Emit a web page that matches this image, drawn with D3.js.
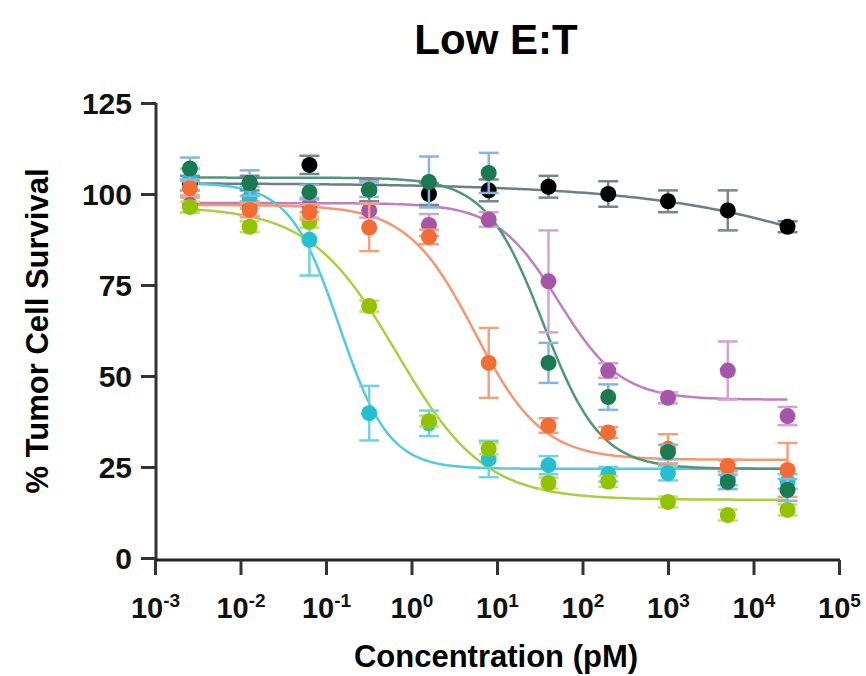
<!DOCTYPE html>
<html><head><meta charset="utf-8">
<script src="https://cdn.jsdelivr.net/npm/d3@7"></script>
<style>
body{margin:0;background:#fff;}
text{font-family:"Liberation Sans",Arial,sans-serif;font-weight:bold;}
</style></head>
<body><svg id="c" width="866" height="676"></svg>
<script>
// Concentrations (pM), 5-fold dilutions
const conc = [0.00256, 0.0128, 0.064, 0.32, 1.6, 8, 40, 200, 1000, 5000, 25000];
const seriesNames = ["black", "purple", "cyan", "lime", "orange", "dgreen"];
const blackY   = [103, 103, 108, 101, 100, 101, 102, 100, 98, 95.5, 91];
const blackErr = [2, 2, 2.5, 3, 3, 3, 3, 3.5, 3, 5.5, 1.5];
const purpleY   = [97, 96, 97, 95.5, 91.5, 93, 76, 51.5, 44, 51.5, 39];
const purpleErr = [2, 2, 2, 2, 3, 2, 14, 2, 1.5, 8, 2.5];
const cyanY   = [104, 99, 87.4, 39.8, 37, 27.2, 25.5, 23, 23.3, 22, 21];
const cyanErr = [3, 3, 9.8, 7.5, 3.5, 5, 2.5, 2, 2, 2, 2];
const limeY   = [96.4, 91, 92.3, 69.2, 37.6, 30, 20.6, 21, 15.4, 11.8, 13.2];
const limeErr = [1.5, 1.5, 1.5, 1.5, 1.5, 1.5, 1.5, 1.5, 1.5, 1.5, 1.5];
const orangeY   = [101.6, 95.6, 95, 90.8, 88.2, 53.6, 36.4, 34.5, 30, 25.3, 24.2];
const orangeErr = [2, 2, 2, 6.5, 2, 9.6, 2, 1.5, 4, 1.5, 7.4];
const dgreenY   = [107, 103, 100.5, 101.2, 103.3, 105.8, 53.6, 44.2, 29.1, 20.9, 18.7];
const dgreenErr = [3, 3.5, 2, 2, 7, 5.5, 5.5, 3.5, 2, 2, 3];
// 4PL fit parameters: [top, bottom, logEC50, hill]
const blackFit  = [103, 30, 6.75, 0.3];
const purpleFit = [97.5, 43.5, 1.72, 1.2];
const cyanFit   = [103, 24.5, -0.845, 1.5];
const limeFit   = [96.5, 16, -0.17, 0.85];
const orangeFit = [97, 27, 0.74, 1.1];
const dgreenFit = [104.5, 24.5, 1.54, 1.3];
const yTicks = [0, 25, 50, 75, 100, 125];
const xTickExps = [-3, -2, -1, 0, 1, 2, 3, 4, 5];

const styles = {
  black:  {pt:"#000000", line:"#6e7e86", err:"#77878f"},
  purple: {pt:"#a656a8", line:"#c07ec0", err:"#d3a3d3"},
  cyan:   {pt:"#22c0d2", line:"#52cadf", err:"#6fd3e2"},
  lime:   {pt:"#93c300", line:"#a8d040", err:"#c2e070"},
  orange: {pt:"#f46c33", line:"#f69670", err:"#f6a07c"},
  dgreen: {pt:"#1a7a52", line:"#4e977a", err:"#86b6df"}
};
const data = {
  black:[blackY,blackErr,blackFit], purple:[purpleY,purpleErr,purpleFit],
  cyan:[cyanY,cyanErr,cyanFit], lime:[limeY,limeErr,limeFit],
  orange:[orangeY,orangeErr,orangeFit], dgreen:[dgreenY,dgreenErr,dgreenFit]
};

const svg = d3.select("#c");
const x = d3.scaleLog().domain([1e-3, 1e5]).range([155, 839]);
const y = d3.scaleLinear().domain([0, 125]).range([558, 103]);

// title
svg.append("text").attr("x", 496).attr("y", 54).attr("text-anchor","middle")
  .style("font-size","42px").text("Low E:T");

// curves
const fourPL = (p, c) => p[1] + (p[0]-p[1])/(1+Math.pow(10,(Math.log10(c)-p[2])*p[3]));
const line = d3.line().x(d=>x(d[0])).y(d=>y(d[1])).curve(d3.curveLinear);
seriesNames.forEach(n=>{
  const p = data[n][2];
  const lo = Math.log10(conc[0]), hi = Math.log10(conc[conc.length-1]);
  const pts = d3.range(0, 201).map(i=>{const lc = lo + (hi-lo)*i/200; const c = Math.pow(10, lc); return [c, fourPL(p, c)];});
  svg.append("path").attr("d", line(pts)).attr("fill","none")
    .attr("stroke", styles[n].line).attr("stroke-width", 2.5);
});

// error bars + points
seriesNames.forEach(n=>{
  const [ys, es] = data[n];
  const g = svg.append("g");
  conc.forEach((c,i)=>{
    const cx = x(c), y1 = y(ys[i]+es[i]), y2 = y(ys[i]-es[i]);
    g.append("line").attr("x1",cx).attr("x2",cx).attr("y1",y1).attr("y2",y2)
      .attr("stroke",styles[n].err).attr("stroke-width",2.5);
    [y1,y2].forEach(yy=>g.append("line").attr("x1",cx-10).attr("x2",cx+10).attr("y1",yy).attr("y2",yy)
      .attr("stroke",styles[n].err).attr("stroke-width",2.5));
  });
  g.selectAll("circle").data(ys).join("circle")
    .attr("cx",(d,i)=>x(conc[i])).attr("cy",d=>y(d)).attr("r",8)
    .attr("fill",styles[n].pt);
});

// axes
const yAxis = svg.append("g").attr("transform","translate(156,0)")
  .call(d3.axisLeft(y).tickValues(yTicks).tickSize(15).tickPadding(9).tickSizeOuter(0));
yAxis.select(".domain").attr("stroke","#333").attr("stroke-width",3).attr("d","M0,103V561");
yAxis.selectAll(".tick line").attr("stroke","#333").attr("stroke-width",3);
yAxis.selectAll(".tick text").style("font-size","30px").attr("fill","#111").attr("dy","0.36em");

const xAxis = svg.append("g").attr("transform","translate(0,560)")
  .call(d3.axisBottom(x).tickValues(xTickExps.map(e=>Math.pow(10,e))).tickSize(15).tickFormat("").tickSizeOuter(0));
xAxis.select(".domain").attr("stroke","#222").attr("stroke-width",3).attr("d","M155,0H840");
xAxis.selectAll(".tick line").attr("stroke","#333").attr("stroke-width",3);
xAxis.selectAll(".tick").each(function(d){
  const e = Math.round(Math.log10(d));
  const t = d3.select(this).append("text").attr("y",58).attr("text-anchor","middle").attr("fill","#111")
    .style("font-size","29px");
  t.append("tspan").text("10");
  t.append("tspan").attr("dy","-11").style("font-size","19px").text(e);
});

svg.append("text").attr("x", 496).attr("y", 667).attr("text-anchor","middle")
  .style("font-size","31px").text("Concentration (pM)");
svg.append("text").attr("transform","translate(48,331) rotate(-90)").attr("text-anchor","middle")
  .style("font-size","31px").text("% Tumor Cell Survival");
</script></body></html>
